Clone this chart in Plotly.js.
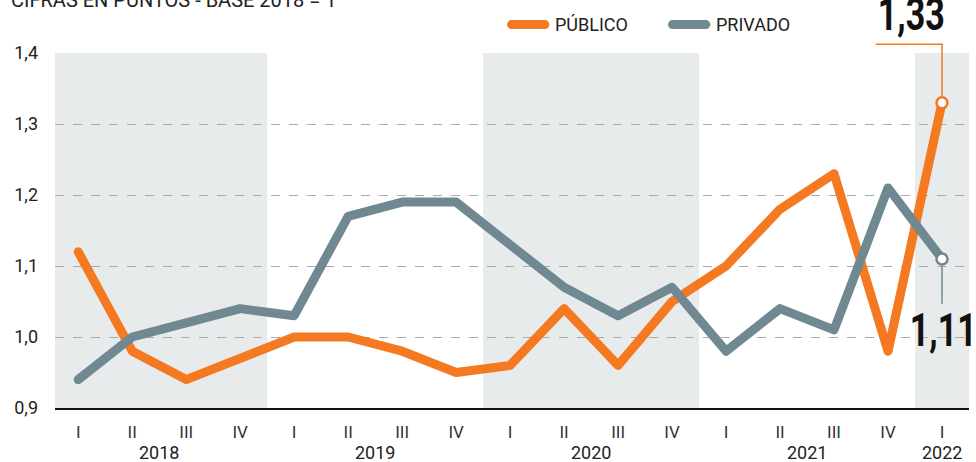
<!DOCTYPE html>
<html><head><meta charset="utf-8">
<script src="https://cdn.plot.ly/plotly-3.0.1.min.js"></script>
<style>
body{margin:0;background:#fff}
.scatterlayer path.js-line{stroke-linejoin:round;stroke-linecap:round}
.shapelayer path{stroke-linecap:round}
</style></head>
<body><div id="chart" style="width:976px;height:462px"></div>
<script>
const quarters = ["I","II","III","IV","I","II","III","IV","I","II","III","IV","I","II","III","IV","I"];
const years = ["2018","2019","2020","2021","2022"];
const publico = [1.12,0.98,0.94,0.97, 1.00,1.00,0.98,0.95, 0.96,1.04,0.96,1.05, 1.10,1.18,1.23,0.98, 1.33];
const privado = [0.94,1.00,1.02,1.04, 1.03,1.17,1.19,1.19, 1.13,1.07,1.03,1.07, 0.98,1.04,1.01,1.21, 1.11];
const seriesNames = ["PÚBLICO","PRIVADO"];
const titleText = "CIFRAS EN PUNTOS - BASE 2018 = 1";

const ORANGE = "#f47920", GRAY = "#6f8892";
const FONT = "Roboto, 'Liberation Sans', sans-serif";
const Y0 = 0.9, Y1 = 1.4;
const toPaper = v => (v - Y0) / (Y1 - Y0);
const idx = quarters.map((_, i) => i);
const last = idx.length - 1;
const fmt = v => v.toFixed(2).replace(".", ",");
const colors = [ORANGE, GRAY];

const yearStart = [], yearEnd = [];
let c = 0;
years.forEach((y, k) => { const n = k < years.length - 1 ? 4 : 1; yearStart.push(c); yearEnd.push(c + n - 1); c += n; });

const shapes = [];
yearStart.forEach((s, k) => {
  if (k % 2 === 0) shapes.push({type:"rect", xref:"x", yref:"paper", x0: s - 0.5, x1: yearEnd[k] + 0.5, y0: 0, y1: 1,
    fillcolor:"#e8ebeb", line:{width:0}, layer:"below"});
});
// leader lines
const topLead = 1.025;
shapes.push({type:"line", xref:"x", yref:"paper", x0:last, x1:last, y0:toPaper(publico[last]), y1:topLead, line:{color:ORANGE, width:1.5}, layer:"below"});
shapes.push({type:"line", xref:"x", yref:"paper", x0:last - 1.22, x1:last, y0:topLead, y1:topLead, line:{color:ORANGE, width:1.5}});
shapes.push({type:"line", xref:"x", yref:"paper", x0:last, x1:last, y0:toPaper(privado[last]), y1:0.295, line:{color:GRAY, width:1.5}, layer:"below"});

// manual legend
const legX = [0.4995, 0.6756];
seriesNames.forEach((n, k) => {
  shapes.push({type:"line", xref:"paper", yref:"paper", x0:legX[k], x1:legX[k] + 0.0365, y0:1.08, y1:1.08,
    line:{color:colors[k], width:9}});
});

const annotations = [];
seriesNames.forEach((n, k) => annotations.push({xref:"paper", yref:"paper", x:legX[k] + 0.0455, xanchor:"left", y:1.08, yanchor:"middle",
  text:n, showarrow:false, font:{family:FONT, size:18, color:"#222"}}));
yearStart.forEach((s, k) => annotations.push({xref:"x", yref:"paper", x:(s + yearEnd[k]) / 2, y:-0.124, yanchor:"middle",
  text: years[k], showarrow:false, font:{family:FONT, size:18, color:"#222"}}));
annotations.push({xref:"paper", yref:"paper", x:-0.05, xanchor:"left", y:1.11, yanchor:"bottom", text:titleText,
  showarrow:false, font:{family:FONT, size:20, color:"#222"}});
const bigIdx = annotations.length;
annotations.push({xref:"x", yref:"paper", x:last - 0.565, xanchor:"center", y:1.027, yanchor:"bottom", text:"<b>"+fmt(publico[last])+"</b>",
  showarrow:false, font:{family:FONT, size:46, color:"#111"}});
annotations.push({xref:"x", yref:"paper", x:last + 0.03, xanchor:"center", y:0.302, yanchor:"top", text:"<b>"+fmt(privado[last])+"</b>",
  showarrow:false, font:{family:FONT, size:46, color:"#111"}});

const traces = [
  {x: idx, y: publico, name: seriesNames[0], type:"scatter", mode:"lines", line:{color:ORANGE, width:9}},
  {x: idx, y: privado, name: seriesNames[1], type:"scatter", mode:"lines", line:{color:GRAY, width:9}},
  {x: [last], y: [publico[last]], type:"scatter", mode:"markers", hoverinfo:"skip",
    marker:{size:11, color:"#fff", line:{color:ORANGE, width:2.5}}},
  {x: [last], y: [privado[last]], type:"scatter", mode:"markers", hoverinfo:"skip",
    marker:{size:11, color:"#fff", line:{color:GRAY, width:2.5}}}
];

const layout = {
  width: 976, height: 462,
  margin: {l:55, r:7, t:53, b:54},
  paper_bgcolor:"#fff", plot_bgcolor:"rgba(0,0,0,0)",
  separators: ",.",
  showlegend: false,
  xaxis: {range:[-0.43, 16.5], tickmode:"array", tickvals: idx, ticktext: quarters, showgrid:false, zeroline:false,
    showline:true, linecolor:"#111", linewidth:2, ticks:"", tickfont:{family:FONT, size:17, color:"#333"}, ticklabelstandoff:8, fixedrange:true},
  yaxis: {range:[Y0, Y1], dtick:0.1, tick0:0.9, tickformat:".1f", showgrid:true, gridcolor:"#aaa", griddash:"dash", gridwidth:1,
    zeroline:false, showline:false, ticks:"", tickfont:{family:FONT, size:18, color:"#222"}, ticklabelstandoff:16, fixedrange:true},
  shapes, annotations
};
Plotly.newPlot("chart", traces, layout, {displayModeBar:false, staticPlot:true}).then(gd => {
  // condense the big value labels
  [bigIdx, bigIdx + 1].forEach(i => {
    const t = gd.querySelector('.annotation[data-index="' + i + '"] text.annotation-text');
    if (t) { t.setAttribute("textLength", "67"); t.setAttribute("lengthAdjust", "spacingAndGlyphs"); }
  });
});
</script></body></html>
